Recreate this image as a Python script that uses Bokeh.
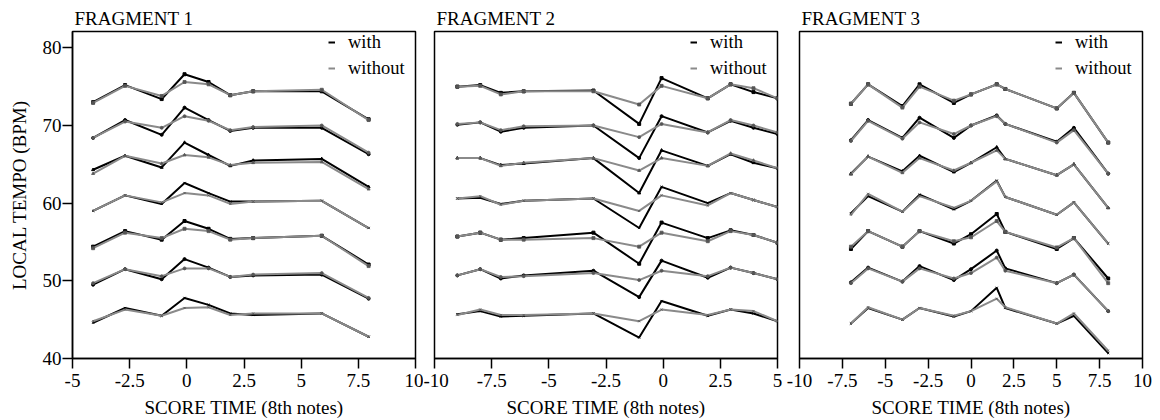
from bokeh.plotting import figure
from bokeh.layouts import row
from bokeh.models import Range1d, FixedTicker, Legend, LegendItem, ColumnDataSource
from bokeh.embed import file_html
from bokeh.resources import INLINE

# ---------------- data ----------------
TITLES = ["FRAGMENT 1", "FRAGMENT 2", "FRAGMENT 3"]
X_LABEL = "SCORE TIME (8th notes)"
Y_LABEL = "LOCAL TEMPO (BPM)"
LEGEND_LABELS = ["with", "without"]

Y_TICKS = [40, 50, 60, 70, 80]
X_TICKS_1 = [-5, -2.5, 0, 2.5, 5, 7.5, 10]
X_TICKS_2 = [-10, -7.5, -5, -2.5, 0, 2.5, 5]
X_TICKS_3 = [-10, -7.5, -5, -2.5, 0, 2.5, 5, 7.5, 10]
X_TICK_LABELS_1 = ["-5", "-2.5", "0", "2.5", "5", "7.5", "10"]
X_TICK_LABELS_2 = ["-10", "-7.5", "-5", "-2.5", "0", "2.5", "5"]
X_TICK_LABELS_3 = ["-10", "-7.5", "-5", "-2.5", "0", "2.5", "5", "7.5", "10"]

F1_X = [-4.1, -2.7, -1.1, -0.1, 0.95, 1.9, 2.9, 5.9, 7.95]
F1_WITH = [
    [73.0, 75.2, 73.4, 76.6, 75.6, 73.9, 74.4, 74.4, 70.8],
    [68.4, 70.7, 68.8, 72.3, 70.7, 69.3, 69.7, 69.7, 66.3],
    [64.3, 66.1, 64.6, 67.8, 66.2, 64.8, 65.5, 65.7, 62.1],
    [59.0, 61.0, 59.9, 62.6, 61.3, 60.2, 60.2, 60.3, 56.8],
    [54.4, 56.4, 55.3, 57.7, 56.7, 55.4, 55.5, 55.8, 52.1],
    [49.5, 51.5, 50.2, 52.8, 51.7, 50.5, 50.7, 50.8, 47.7],
    [44.6, 46.5, 45.5, 47.8, 46.9, 45.8, 45.6, 45.8, 42.8],
]
F1_WITHOUT = [
    [72.9, 75.1, 73.8, 75.6, 75.3, 73.9, 74.4, 74.6, 70.7],
    [68.4, 70.5, 69.7, 71.2, 70.6, 69.4, 69.8, 70.0, 66.5],
    [63.8, 66.1, 65.1, 66.2, 65.9, 64.9, 65.2, 65.3, 61.8],
    [59.0, 61.0, 60.1, 61.3, 61.0, 59.9, 60.2, 60.3, 56.8],
    [54.2, 56.2, 55.5, 56.7, 56.4, 55.3, 55.5, 55.8, 51.9],
    [49.7, 51.5, 50.6, 51.6, 51.6, 50.5, 50.8, 51.0, 47.8],
    [44.8, 46.3, 45.5, 46.5, 46.6, 45.6, 45.8, 45.8, 42.8],
]

F2_X = [-9.0, -8.0, -7.1, -6.1, -3.05, -1.05, -0.07, 1.95, 2.95, 3.95, 5.0]
F2_WITH = [
    [75.0, 75.2, 74.2, 74.4, 74.5, 70.2, 76.1, 73.5, 75.3, 74.3, 73.5],
    [70.1, 70.4, 69.2, 69.7, 70.0, 65.8, 71.2, 69.1, 70.6, 69.7, 68.9],
    [65.8, 65.8, 64.9, 65.1, 65.8, 61.3, 66.8, 64.8, 66.3, 65.2, 64.5],
    [60.6, 60.7, 59.9, 60.3, 60.6, 56.8, 62.1, 60.0, 61.3, 60.4, 59.5],
    [55.7, 56.2, 55.3, 55.5, 56.2, 52.2, 57.5, 55.5, 56.5, 55.9, 54.9],
    [50.7, 51.5, 50.3, 50.7, 51.3, 47.9, 52.6, 50.4, 51.7, 51.0, 50.2],
    [45.7, 46.1, 45.4, 45.5, 45.8, 42.7, 47.4, 45.5, 46.3, 45.8, 44.8],
]
F2_WITHOUT = [
    [75.0, 75.1, 74.0, 74.4, 74.4, 72.7, 75.1, 73.5, 75.3, 74.8, 73.5],
    [70.2, 70.4, 69.4, 69.9, 70.0, 68.5, 70.2, 69.1, 70.7, 70.0, 69.1],
    [65.8, 65.8, 64.8, 65.2, 65.8, 64.2, 65.8, 64.8, 66.4, 65.5, 64.5],
    [60.6, 60.9, 59.8, 60.3, 60.6, 59.0, 61.0, 59.7, 61.3, 60.4, 59.5],
    [55.7, 56.2, 55.3, 55.3, 55.5, 54.4, 56.2, 55.1, 56.4, 55.9, 54.9],
    [50.7, 51.5, 50.5, 50.6, 51.0, 50.1, 51.3, 50.6, 51.7, 51.0, 50.2],
    [45.6, 46.3, 45.6, 45.6, 45.8, 44.8, 46.3, 45.6, 46.3, 46.1, 44.8],
]

F3_X = [-7.0, -6.0, -4.0, -3.0, -1.0, 0.0, 1.5, 2.0, 5.0, 6.0, 8.0]
F3_WITH = [
    [72.8, 75.3, 72.5, 75.3, 72.9, 74.0, 75.3, 74.7, 72.2, 74.2, 67.8],
    [68.1, 70.7, 68.4, 71.0, 68.4, 70.0, 71.3, 70.2, 67.9, 69.7, 63.8],
    [63.8, 66.0, 64.1, 66.1, 64.0, 65.2, 67.2, 65.7, 63.6, 65.0, 59.4],
    [58.7, 60.9, 58.9, 61.1, 59.2, 60.3, 62.9, 60.8, 58.5, 60.1, 54.8],
    [54.1, 56.4, 54.4, 56.4, 54.8, 56.0, 58.6, 56.3, 54.1, 55.5, 50.3],
    [49.8, 51.7, 49.9, 51.9, 50.1, 51.5, 53.9, 51.6, 49.7, 50.8, 46.1],
    [44.5, 46.5, 45.0, 46.5, 45.4, 46.1, 49.1, 46.5, 44.5, 45.5, 40.7],
]
F3_WITHOUT = [
    [72.8, 75.3, 72.3, 75.0, 73.2, 74.0, 75.3, 74.7, 72.2, 74.2, 67.8],
    [68.0, 70.6, 68.3, 70.4, 68.9, 70.0, 71.2, 70.2, 67.8, 69.4, 63.8],
    [63.7, 66.0, 63.9, 65.8, 64.2, 65.2, 66.8, 65.7, 63.6, 65.0, 59.4],
    [58.5, 61.2, 58.9, 60.9, 59.4, 60.3, 62.8, 60.8, 58.5, 60.1, 54.8],
    [54.4, 56.4, 54.4, 56.4, 55.1, 55.6, 57.7, 56.3, 54.3, 55.5, 49.7],
    [49.7, 51.6, 49.9, 51.6, 50.3, 51.0, 53.0, 51.3, 49.7, 50.8, 46.1],
    [44.5, 46.6, 45.0, 46.5, 45.5, 46.1, 47.7, 46.6, 44.5, 45.8, 41.0],
]

X_RANGES = [(-5, 10), (-10, 5), (-10, 10)]
Y_RANGE = (40, 82.1)

# ---------------- styling ----------------
FONT = "Liberation Serif"
BLACK = "#000000"
GREY = "#8a8a8a"
MARKERS = ["square", "circle", "triangle", "x", "square", "circle", "x"]

PANELS = [
    dict(title=TITLES[0], x=F1_X, w=F1_WITH, wo=F1_WITHOUT, xr=X_RANGES[0],
         ticks=X_TICKS_1, labels=X_TICK_LABELS_1,
         width=423, bl=72, br=8, yaxis=True),
    dict(title=TITLES[1], x=F2_X, w=F2_WITH, wo=F2_WITHOUT, xr=X_RANGES[1],
         ticks=X_TICKS_2, labels=X_TICK_LABELS_2,
         width=361, bl=11, br=7, yaxis=False),
    dict(title=TITLES[2], x=F3_X, w=F3_WITH, wo=F3_WITHOUT, xr=X_RANGES[2],
         ticks=X_TICKS_3, labels=X_TICK_LABELS_3,
         width=376, bl=15, br=18, yaxis=False),
]


def style_axis(ax):
    ax.axis_line_color = BLACK
    ax.axis_line_width = 1.5
    ax.major_tick_line_color = BLACK
    ax.major_tick_line_width = 1.5
    ax.major_tick_out = 10
    ax.major_tick_in = 0
    ax.minor_tick_line_color = None
    ax.major_label_text_font = FONT
    ax.major_label_text_font_size = "19px"
    ax.major_label_text_color = BLACK
    ax.axis_label_text_font = FONT
    ax.axis_label_text_font_size = "19px"
    ax.axis_label_text_font_style = "normal"
    ax.axis_label_text_color = BLACK


figs = []
for pn in PANELS:
    p = figure(
        width=pn["width"], height=420,
        x_range=Range1d(*pn["xr"]), y_range=Range1d(*Y_RANGE),
        output_backend="svg", toolbar_location=None,
        y_axis_location="left" if pn["yaxis"] else None,
        min_border_left=pn["bl"], min_border_right=pn["br"],
        min_border_top=31, min_border_bottom=0,
    )
    p.grid.visible = False
    p.outline_line_color = BLACK
    p.outline_line_width = 1.5
    p.background_fill_color = "white"
    p.border_fill_color = "white"

    p.title.text = pn["title"]
    p.title.text_font = FONT
    p.title.text_font_size = "19px"
    p.title.text_font_style = "normal"
    p.title.text_color = BLACK
    p.title.align = "left"
    p.title.offset = 2
    p.title.standoff = 6

    xa = p.xaxis[0]
    style_axis(xa)
    xa.ticker = FixedTicker(ticks=pn["ticks"])
    xa.major_label_overrides = {t: l for t, l in zip(pn["ticks"], pn["labels"])}
    xa.major_label_standoff = 5
    xa.axis_label = X_LABEL
    xa.axis_label_standoff = 7

    if pn["yaxis"]:
        ya = p.yaxis[0]
        style_axis(ya)
        ya.ticker = FixedTicker(ticks=Y_TICKS)
        ya.major_label_overrides = {t: str(t) for t in Y_TICKS}
        ya.major_label_standoff = 1
        ya.axis_label = Y_LABEL
        ya.axis_label_standoff = 10

    first_w = first_wo = None
    for i, (yw, ywo) in enumerate(zip(pn["w"], pn["wo"])):
        src_w = ColumnDataSource(dict(x=pn["x"], y=yw))
        src_wo = ColumnDataSource(dict(x=pn["x"], y=ywo))
        rw = p.line("x", "y", source=src_w, line_color=BLACK, line_width=2)
        p.scatter("x", "y", source=src_w, marker=MARKERS[i], size=3,
                  line_color=BLACK, fill_color=BLACK, line_width=1)
        rwo = p.line("x", "y", source=src_wo, line_color=GREY, line_width=2)
        p.scatter("x", "y", source=src_wo, marker=MARKERS[i], size=3,
                  line_color="#555555", fill_color="#555555", line_width=0.8)
        if first_w is None:
            first_w, first_wo = rw, rwo

    frame_w = pn["width"] - pn["bl"] - pn["br"]
    legend = Legend(
        items=[LegendItem(label=LEGEND_LABELS[0], renderers=[first_w]),
               LegendItem(label=LEGEND_LABELS[1], renderers=[first_wo])],
        location=(frame_w - 87, 324 - 48 + 3),
        orientation="vertical",
        glyph_width=7, glyph_height=22, label_height=22, label_standoff=13,
        spacing=4, padding=0, margin=0,
        border_line_color=None, background_fill_alpha=0,
        label_text_font=FONT, label_text_font_size="18.5px",
        label_text_color=BLACK,
    )
    p.add_layout(legend)
    figs.append(p)

layout = row(*figs)
open("out.html", "w").write(file_html(layout, INLINE))
